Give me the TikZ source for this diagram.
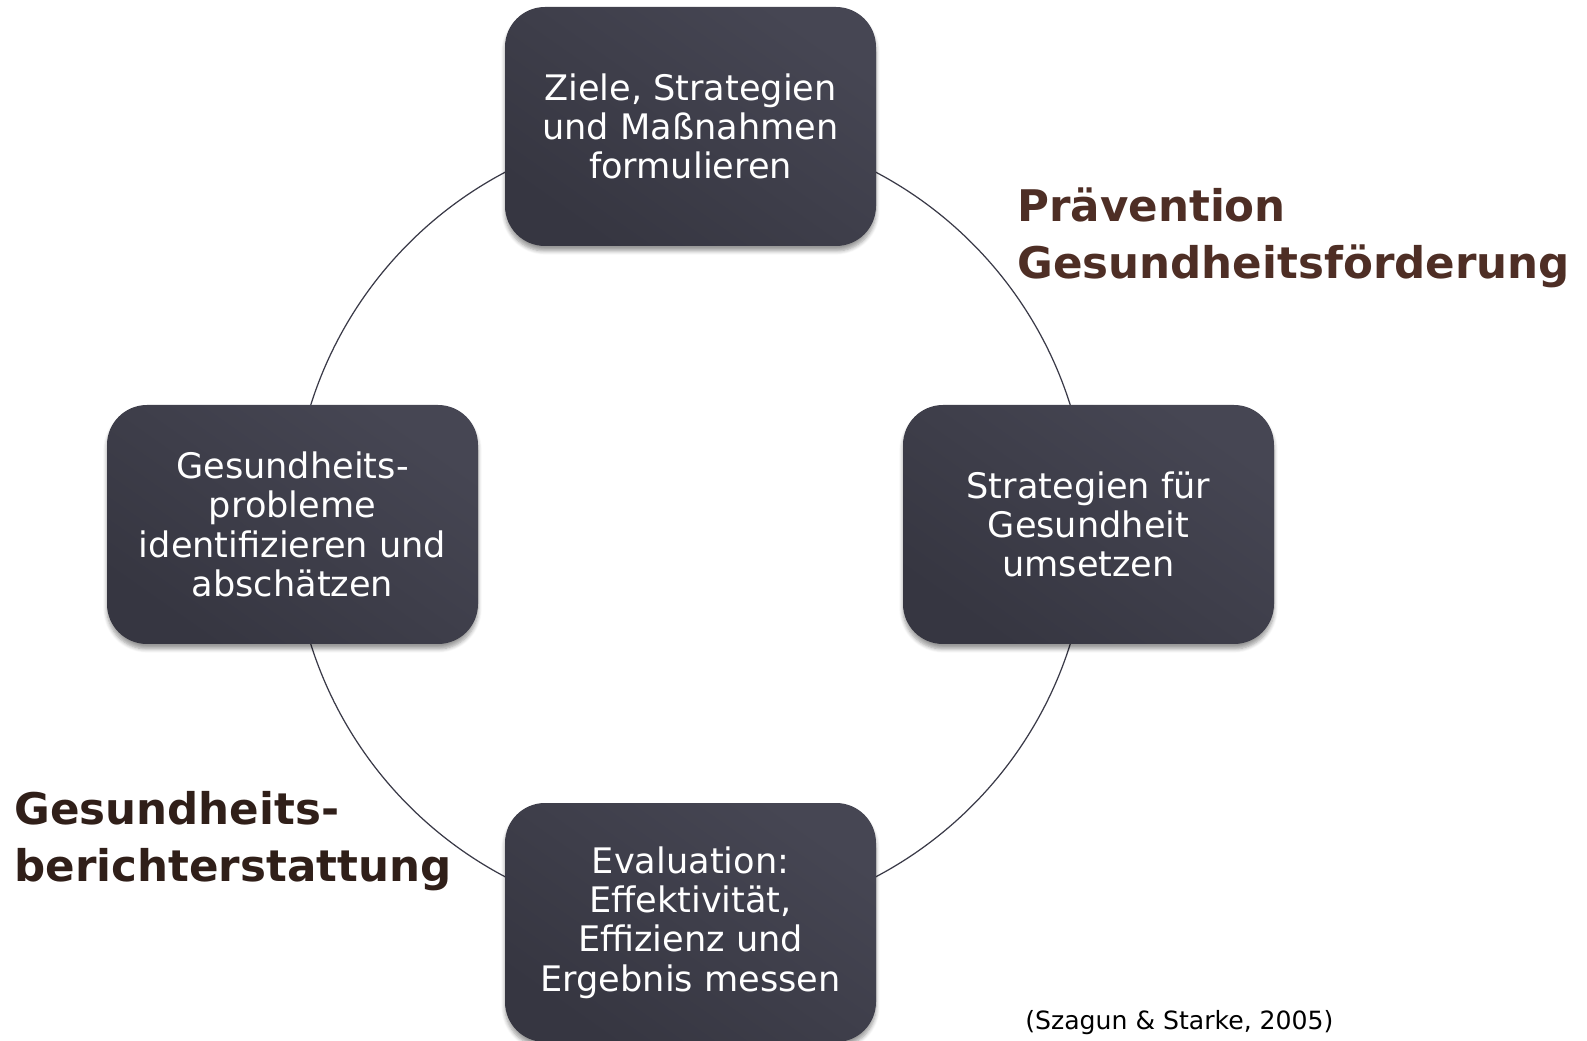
\documentclass[tikz,border=0pt]{standalone}
\usepackage{fontspec}
\setmainfont{DejaVu Sans}
\usetikzlibrary{shadows.blur}
\definecolor{stagedark}{HTML}{363641}
\definecolor{stagelight}{HTML}{464653}
\definecolor{ring}{HTML}{3A3A48}
\definecolor{headbrown}{HTML}{4E2E25}
\definecolor{headdark}{HTML}{301F19}

\begin{document}
\begin{tikzpicture}[
  stage/.style={rounded corners=0.8cm, minimum width=7.42cm, minimum height=4.78cm,
    top color=stagelight, bottom color=stagedark, shading angle=-35,
    text=white, align=center, font=\fontsize{20}{22.4}\selectfont,
    blur shadow={shadow xshift=0pt, shadow yshift=-0.1cm, shadow blur steps=6}},
  heading/.style={anchor=north west, inner sep=0pt, align=left,
    font=\bfseries\fontsize{24.8}{32.7}\selectfont}]
  \useasboundingbox (0,0) rectangle (31.74,20.8);
  \coordinate (hub) at (13.81,10.31);

  % Ring behind the stages
  \draw[ring, line width=0.7pt] (hub) circle (7.96);

  % Stages of the cycle
  \node[stage] (goals) at (13.81,18.27) {Ziele, Strategien\\und Maßnahmen\\formulieren};
  \node[stage] (implement) at (21.77,10.31) {Strategien für\\Gesundheit\\umsetzen};
  \node[stage] (evaluate) at (13.81,2.35) {Evaluation:\\Effektivität,\\Effizienz und\\Ergebnis messen};
  \node[stage] (problems) at (5.85,10.31) {Gesundheits-\\probleme\\identifizieren und\\abschätzen};

  % Fields
  \node[heading, headbrown] (prevention) at (20.34,17.06) {Prävention\\Gesundheitsförderung};
  \node[heading, headdark] (reporting) at (0.28,4.98) {Gesundheits-\\berichterstattung};

  % Source
  \node[anchor=west, inner sep=0pt, font=\fontsize{14.3}{17}\selectfont] (source) at (20.5,0.34) {(Szagun \& Starke, 2005)};
\end{tikzpicture}
\end{document}
